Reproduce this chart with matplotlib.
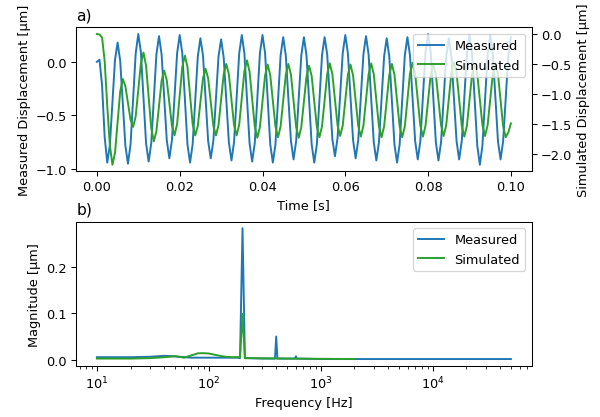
import numpy as np
from matplotlib import pyplot as plt

# time signals, one sample every 0.625 ms (8 per 200 Hz cycle)
dt = 0.000625
meas_disp = [
    0.00, 0.02, -0.22, -0.70, -0.94, -0.78, -0.38, 0.02,
    0.18, 0.01, -0.39, -0.78, -0.95, -0.77, -0.35, 0.08,
    0.26, 0.09, -0.34, -0.76, -0.93, -0.76, -0.35, 0.07,
    0.24, 0.07, -0.33, -0.73, -0.90, -0.73, -0.33, 0.08,
    0.25, 0.08, -0.35, -0.77, -0.94, -0.77, -0.36, 0.05,
    0.22, 0.06, -0.34, -0.74, -0.90, -0.74, -0.35, 0.05,
    0.21, 0.04, -0.36, -0.75, -0.92, -0.75, -0.34, 0.08,
    0.25, 0.08, -0.34, -0.76, -0.93, -0.76, -0.34, 0.08,
    0.25, 0.08, -0.35, -0.77, -0.94, -0.77, -0.36, 0.06,
    0.23, 0.06, -0.34, -0.74, -0.91, -0.74, -0.34, 0.06,
    0.23, 0.06, -0.36, -0.77, -0.94, -0.77, -0.36, 0.06,
    0.23, 0.07, -0.33, -0.72, -0.88, -0.71, -0.32, 0.08,
    0.25, 0.08, -0.33, -0.73, -0.90, -0.73, -0.33, 0.07,
    0.24, 0.07, -0.34, -0.75, -0.92, -0.75, -0.35, 0.05,
    0.22, 0.05, -0.36, -0.77, -0.94, -0.77, -0.36, 0.06,
    0.23, 0.06, -0.34, -0.74, -0.91, -0.74, -0.33, 0.09,
    0.26, 0.09, -0.33, -0.75, -0.92, -0.75, -0.35, 0.05,
    0.22, 0.05, -0.35, -0.74, -0.91, -0.74, -0.33, 0.08,
    0.25, 0.07, -0.36, -0.78, -0.96, -0.78, -0.36, 0.07,
    0.25, 0.08, -0.33, -0.74, -0.91, -0.74, -0.34, 0.06,
    0.23,
]
sim_disp = [
    0.00, -0.01, -0.06, -0.45, -1.20, -1.85, -2.18, -1.98,
    -1.47, -0.96, -0.75, -0.87, -1.15, -1.43, -1.55, -1.37,
    -0.93, -0.49, -0.31, -0.53, -1.05, -1.57, -1.79, -1.62,
    -1.20, -0.78, -0.61, -0.77, -1.15, -1.53, -1.69, -1.50,
    -1.03, -0.55, -0.36, -0.55, -1.03, -1.50, -1.69, -1.53,
    -1.14, -0.74, -0.58, -0.74, -1.14, -1.53, -1.69, -1.52,
    -1.10, -0.67, -0.50, -0.67, -1.10, -1.52, -1.69, -1.51,
    -1.07, -0.62, -0.44, -0.63, -1.09, -1.54, -1.73, -1.55,
    -1.12, -0.69, -0.51, -0.69, -1.12, -1.54, -1.72, -1.54,
    -1.11, -0.68, -0.50, -0.68, -1.12, -1.55, -1.73, -1.55,
    -1.13, -0.71, -0.53, -0.70, -1.13, -1.55, -1.72, -1.54,
    -1.11, -0.67, -0.49, -0.67, -1.10, -1.52, -1.70, -1.53,
    -1.11, -0.68, -0.51, -0.69, -1.11, -1.53, -1.71, -1.53,
    -1.10, -0.67, -0.49, -0.67, -1.11, -1.54, -1.72, -1.54,
    -1.11, -0.68, -0.50, -0.68, -1.11, -1.54, -1.72, -1.54,
    -1.10, -0.66, -0.48, -0.66, -1.10, -1.53, -1.71, -1.53,
    -1.11, -0.68, -0.50, -0.68, -1.10, -1.52, -1.70, -1.52,
    -1.09, -0.65, -0.47, -0.65, -1.09, -1.53, -1.71, -1.53,
    -1.10, -0.67, -0.49, -0.67, -1.10, -1.52, -1.70, -1.52,
    -1.10, -0.67, -0.49, -0.67, -1.11, -1.54, -1.72, -1.64,
    -1.49,
]

# spectra
meas_freq = [10, 20, 30, 40, 50, 60, 70, 80, 100, 120, 150, 180, 190, 200, 210,
             220, 300, 390, 400, 410, 500, 590, 600, 610, 1000, 2000, 5000,
             10000, 20000, 50000]
meas_mag = [0.005, 0.005, 0.006, 0.008, 0.007, 0.005, 0.004, 0.004, 0.004, 0.004,
            0.004, 0.004, 0.003, 0.285, 0.003, 0.003, 0.002, 0.002, 0.050, 0.002,
            0.002, 0.002, 0.007, 0.002, 0.001, 0.001, 0.001, 0.001, 0.001, 0.001]
sim_freq = [10, 20, 30, 40, 50, 60, 70, 80, 90, 100, 120, 140, 160, 190, 200, 210,
            250, 500, 1000, 2000]
sim_mag = [0.002, 0.002, 0.003, 0.005, 0.007, 0.004, 0.009, 0.0135, 0.0137, 0.013,
           0.009, 0.006, 0.005, 0.005, 0.099, 0.003, 0.003, 0.002, 0.0015, 0.001]

t_meas = np.arange(len(meas_disp)) * dt
t_sim = np.arange(len(sim_disp)) * dt

# 93 dpi so text and lines come out a bit smaller, as in the original
fig, (ax1, ax3) = plt.subplots(2, 1, figsize=(600 / 93, 418 / 93), dpi=93)
fig.subplots_adjust(left=0.127, right=0.886, bottom=0.123, top=0.932, hspace=0.35)

# a) time domain
l1, = ax1.plot(t_meas, meas_disp, color='tab:blue', label='Measured')
ax1.set_xlabel('Time [s]')
ax1.set_ylabel('Measured Displacement [µm]')
ax1.set_title('a)', loc='left')
ax2 = ax1.twinx()
l2, = ax2.plot(t_sim, sim_disp, color='tab:green', label='Simulated')
ax2.set_ylabel('Simulated Displacement [µm]')
ax2.legend([l1, l2], ['Measured', 'Simulated'], loc='upper right')

# b) frequency domain
ax3.plot(meas_freq, meas_mag, color='tab:blue', label='Measured')
ax3.plot(sim_freq, sim_mag, color='tab:green', label='Simulated')
ax3.set_xscale('log')
ax3.set_xlabel('Frequency [Hz]')
ax3.set_ylabel('Magnitude [µm]')
ax3.set_title('b)', loc='left')
ax3.legend(loc='upper right')

fig.savefig('out.png', dpi=93)
